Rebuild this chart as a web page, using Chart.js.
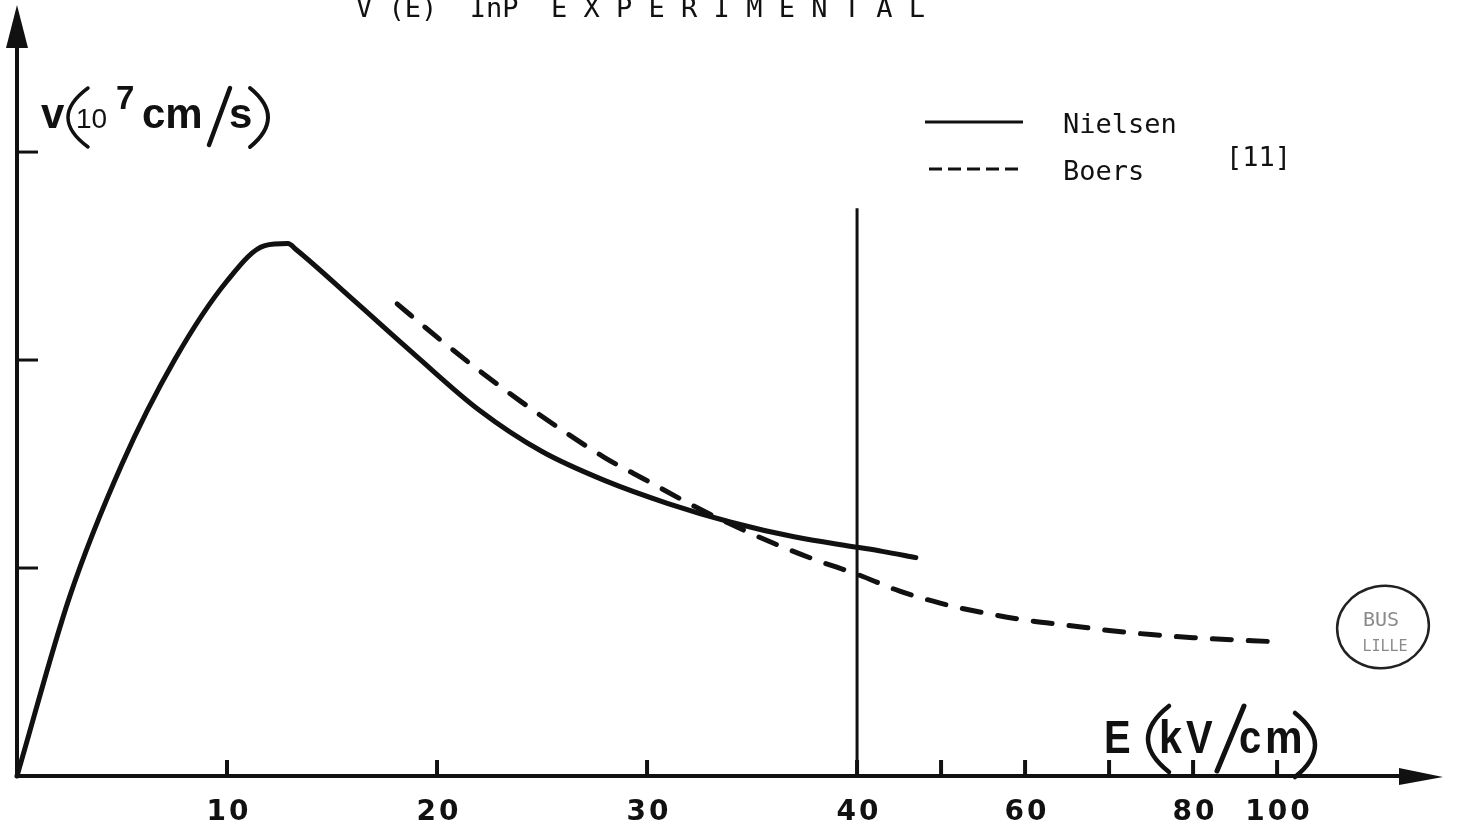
<!DOCTYPE html>
<html>
<head>
<meta charset="utf-8">
<title>V (E) InP EXPERIMENTAL</title>
<script src="https://cdn.jsdelivr.net/npm/chart.js@4.4.1/dist/chart.umd.min.js"></script>
<style>
  html, body { margin: 0; padding: 0; background: #fff; }
  #wrap { width: 1469px; height: 838px; position: relative; }
</style>
</head>
<body>
<div id="wrap"><canvas id="myChart"></canvas></div>
<script>
// field E in kV/cm, drift velocity v in 10^7 cm/s
const nielsenE = [0, 2.5, 5, 7.5, 10, 11.8, 12.9, 13.3, 16, 19, 22, 25, 28, 31, 34, 37, 40, 43, 47];
const nielsenV = [0, 0.86, 1.50, 2.00, 2.38, 2.55, 2.56, 2.53, 2.29, 2.02, 1.76, 1.56, 1.42, 1.31, 1.22, 1.15, 1.10, 1.08, 1.05];

const boersE = [18.1, 20, 22, 24, 26, 28, 30, 32, 34, 36, 38, 40, 45, 50, 55, 60, 65, 70, 75, 80, 100];
const boersV = [2.27, 2.11, 1.95, 1.80, 1.66, 1.53, 1.42, 1.31, 1.21, 1.12, 1.04, 0.97, 0.89, 0.83, 0.785, 0.75, 0.725, 0.70, 0.68, 0.665, 0.645];

const fieldTicks = [10, 20, 30, 40, 50, 60, 70, 80, 100];
const fieldLabels = ['10', '20', '30', '40', '', '60', '', '80', '100'];
const velocityTicks = [1, 2, 3];

const ink = '#111';

// the field axis is linear up to 40 kV/cm, then squeezed
function fieldToAxis(e) {
    if (e <= 40) return e;
    if (e <= 80) return 40 + (e - 40) * 0.4;
    return 56 + (e - 80) * 0.2;
}

function toPoints(es, vs) {
    return es.map((e, i) => ({ x: fieldToAxis(e), y: vs[i] }));
}

function line(ctx, x1, y1, x2, y2) {
    ctx.beginPath();
    ctx.moveTo(x1, y1);
    ctx.lineTo(x2, y2);
    ctx.stroke();
}

function tri(ctx, pts) {
    ctx.beginPath();
    ctx.moveTo(pts[0][0], pts[0][1]);
    ctx.lineTo(pts[1][0], pts[1][1]);
    ctx.lineTo(pts[2][0], pts[2][1]);
    ctx.closePath();
    ctx.fill();
}

// tall thin bracket; bulge is the x reached at mid height
function paren(ctx, x, top, bottom, bulge) {
    const cx = 2 * bulge - x;
    ctx.beginPath();
    ctx.moveTo(x, top);
    ctx.quadraticCurveTo(cx, (top + bottom) / 2, x, bottom);
    ctx.stroke();
}

// one glyph, squeezed horizontally
function glyph(ctx, text, x, y, font, sx) {
    ctx.save();
    ctx.font = font;
    ctx.translate(x, y);
    ctx.scale(sx, 1);
    ctx.fillText(text, 0, 0);
    ctx.restore();
}

// hand-drawn style axes, arrows, titles and legend
const sketchAxes = {
    id: 'sketchAxes',
    afterDraw(chart) {
        const { ctx, chartArea, scales: { x, y } } = chart;
        const x0 = x.getPixelForValue(0);
        const y0 = y.getPixelForValue(0);
        const tipX = chartArea.right;

        ctx.save();
        ctx.strokeStyle = ink;
        ctx.fillStyle = ink;
        ctx.textBaseline = 'alphabetic';
        ctx.textAlign = 'left';

        // axes
        ctx.lineWidth = 4;
        line(ctx, x0, y0 + 2, x0, 44);
        tri(ctx, [[x0, 5], [x0 - 11, 48], [x0 + 11, 48]]);
        line(ctx, x0 - 2, y0, tipX - 40, y0);
        tri(ctx, [[tipX, y0 + 1], [tipX - 44, y0 - 8], [tipX - 44, y0 + 9]]);

        // tick marks point into the plot
        ctx.lineWidth = 3;
        velocityTicks.forEach(v => {
            const py = y.getPixelForValue(v);
            line(ctx, x0, py, x0 + 21, py);
        });
        ctx.lineWidth = 4;
        fieldTicks.forEach(e => {
            const px = x.getPixelForValue(fieldToAxis(e));
            line(ctx, px, y0, px, y0 - 16);
        });

        // field tick labels
        ctx.font = 'bold 28px "DejaVu Sans"';
        ctx.letterSpacing = '3px';
        ctx.textAlign = 'center';
        fieldTicks.forEach((e, i) => {
            const px = x.getPixelForValue(fieldToAxis(e));
            ctx.fillText(fieldLabels[i], px + 2, 820);
        });
        ctx.letterSpacing = '0px';
        ctx.textAlign = 'left';

        // 40 kV/cm marker
        ctx.lineWidth = 3;
        const p40 = x.getPixelForValue(40);
        line(ctx, p40, y.getPixelForValue(2.73), p40, y0);

        // title
        ctx.font = '27px "DejaVu Sans Mono"';
        ctx.fillText('V (E)  InP  E X P E R I M E N T A L', 356, 17);

        // y axis label: v(10^7 cm/s)
        ctx.font = 'bold 42px "Liberation Sans"';
        ctx.fillText('v', 41, 128);
        ctx.lineWidth = 3.5;
        ctx.lineCap = 'round';
        paren(ctx, 88, 88, 147, 68);
        ctx.font = '28px "Liberation Sans"';
        ctx.fillText('10', 76, 128);
        ctx.font = 'bold 33px "Liberation Sans"';
        ctx.fillText('7', 116, 109);
        ctx.font = 'bold 42px "Liberation Sans"';
        ctx.fillText('cm', 142, 128);
        ctx.lineWidth = 4.5;
        line(ctx, 209, 145, 230, 88);
        ctx.fillText('s', 229, 128);
        ctx.lineWidth = 4;
        paren(ctx, 250, 88, 147, 268);

        // x axis label: E(kV/cm)
        const big = 'bold 47px "Liberation Sans"';
        glyph(ctx, 'E', 1104, 753, big, 0.85);
        ctx.lineWidth = 4.5;
        paren(ctx, 1169, 706, 772, 1148);
        glyph(ctx, 'k', 1159, 753, big, 0.88);
        glyph(ctx, 'V', 1186, 753, big, 0.85);
        ctx.lineWidth = 5;
        line(ctx, 1217, 771, 1244, 706);
        glyph(ctx, 'c', 1239, 753, big, 0.85);
        glyph(ctx, 'm', 1265, 753, big, 0.9);
        ctx.lineWidth = 4.5;
        paren(ctx, 1295, 713, 777, 1315);
        ctx.lineCap = 'butt';

        // legend
        const ds = chart.data.datasets;
        ctx.lineWidth = 3;
        ctx.strokeStyle = ds[0].borderColor;
        line(ctx, 925, 122, 1023, 122);
        ctx.setLineDash([13, 6]);
        ctx.strokeStyle = ds[1].borderColor;
        line(ctx, 929, 169, 1018, 169);
        ctx.setLineDash([]);
        ctx.font = '27px "DejaVu Sans Mono"';
        ctx.fillText(ds[0].label, 1063, 133);
        ctx.fillText(ds[1].label, 1063, 180);
        ctx.fillText('[11]', 1226, 166);

        // library stamp
        ctx.strokeStyle = '#222';
        ctx.lineWidth = 2.5;
        ctx.beginPath();
        ctx.ellipse(1383, 627, 46, 41, -0.2, 0, Math.PI * 2);
        ctx.stroke();
        ctx.fillStyle = '#8a8a8a';
        ctx.textAlign = 'center';
        ctx.font = '20px "DejaVu Sans Mono"';
        ctx.fillText('BUS', 1381, 626);
        ctx.font = '15px "DejaVu Sans Mono"';
        ctx.fillText('LILLE', 1385, 651);

        ctx.restore();
    }
};

const ctx = document.getElementById('myChart');
new Chart(ctx, {
    type: 'line',
    data: {
        datasets: [{
            label: 'Nielsen',
            data: toPoints(nielsenE, nielsenV),
            borderColor: ink,
            borderWidth: 5,
            pointRadius: 0,
            cubicInterpolationMode: 'monotone',
            borderCapStyle: 'round',
            borderJoinStyle: 'round',
            fill: false,
            clip: 8
        }, {
            label: 'Boers',
            data: toPoints(boersE, boersV),
            borderColor: ink,
            borderWidth: 5,
            borderDash: [19, 17],
            pointRadius: 0,
            cubicInterpolationMode: 'monotone',
            borderCapStyle: 'round',
            fill: false,
            clip: 8
        }]
    },
    options: {
        responsive: true,
        maintainAspectRatio: false,
        animation: false,
        layout: { padding: { top: 5, right: 26, left: 0, bottom: 0 } },
        plugins: {
            legend: { display: false },
            tooltip: { enabled: false }
        },
        scales: {
            x: {
                type: 'linear',
                min: 0,
                max: 67.9,
                grid: { display: false, drawTicks: false },
                border: { display: false },
                afterBuildTicks: scale => {
                    scale.ticks = fieldTicks.map(e => ({ value: fieldToAxis(e) }));
                },
                afterFit: scale => { scale.height = 62; },
                ticks: { display: false }
            },
            y: {
                type: 'linear',
                min: 0,
                max: 3.707,
                grid: { display: false, drawTicks: false },
                border: { display: false },
                ticks: { display: false },
                afterBuildTicks: scale => {
                    scale.ticks = velocityTicks.map(v => ({ value: v }));
                },
                afterFit: scale => { scale.width = 17; }
            }
        }
    },
    plugins: [sketchAxes]
});
</script>
</body>
</html>
